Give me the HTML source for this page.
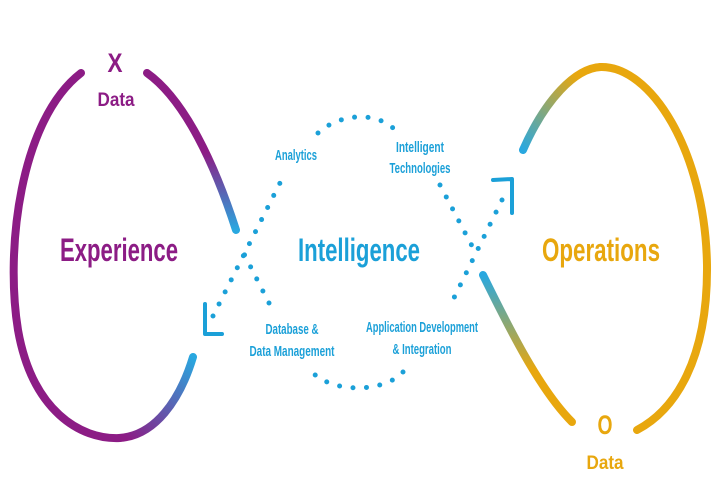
<!DOCTYPE html>
<html><head><meta charset="utf-8"><style>
html,body{margin:0;padding:0;background:#fff;}
svg{display:block;}
text{font-family:"Liberation Sans",sans-serif;font-weight:bold;text-anchor:middle;}
</style></head><body>
<svg width="720" height="495" viewBox="0 0 720 495">
<defs>
<linearGradient id="gl1" gradientUnits="userSpaceOnUse" x1="125" y1="437" x2="193" y2="357">
<stop offset="0" stop-color="#8c1c85"/><stop offset="1" stop-color="#29a8e0"/></linearGradient>
<linearGradient id="gl2" gradientUnits="userSpaceOnUse" x1="0" y1="120" x2="0" y2="230">
<stop offset="0" stop-color="#8c1c85"/><stop offset="0.3" stop-color="#8c1c85"/><stop offset="1" stop-color="#29a8e0"/></linearGradient>
<linearGradient id="gr1" gradientUnits="userSpaceOnUse" x1="523" y1="150" x2="600" y2="67">
<stop offset="0" stop-color="#29a8e0"/><stop offset="0.8" stop-color="#e8a70e"/></linearGradient>
<linearGradient id="gr2" gradientUnits="userSpaceOnUse" x1="0" y1="275" x2="0" y2="370">
<stop offset="0" stop-color="#29a8e0"/><stop offset="1" stop-color="#e8a70e"/></linearGradient>
</defs>
<g fill="none" stroke-width="8" stroke-linecap="round">
<path d="M81,73 C20,120 5,250 18,330 C32,410 80,440 120,438" stroke="#8c1c85"/>
<path d="M119,438 C155,436 180,400 193,357" stroke="url(#gl1)"/>
<path d="M147,73 C185,100 215,165 236,230" stroke="url(#gl2)"/>
<path d="M600,67 C650,65 705,150 707,265 C708,360 675,410 637,430" stroke="#e8a70e"/>
<path d="M523,150 C545,100 575,68 601,67" stroke="url(#gr1)"/>
<path d="M483,275 C510,330 540,390 572,422" stroke="url(#gr2)"/>
</g>
<g fill="none" stroke="#1ba0d8" stroke-width="5" stroke-linecap="round" stroke-dasharray="0 13.5">
<path d="M213,316 L281,181"/>
<path d="M318,133 C340,113 375,112 393,128"/>
<path d="M440,185 L472,246"/>
<path d="M502,200 L449,308"/>
<path d="M403,372 C385,392 335,394 313,373"/>
<path d="M269,303 L240,246"/>
</g>
<g fill="none" stroke="#1ba0d8" stroke-width="4" stroke-linecap="round" stroke-linejoin="round">
<path d="M205,304 L205,334 L222,334"/>
<path d="M493,180 L512,179 L512,213"/>
</g>
<text x="115" y="72" font-size="27" fill="#8c1c85" textLength="15" lengthAdjust="spacingAndGlyphs">X</text>
<text x="116" y="106" font-size="19" fill="#8c1c85" textLength="37" lengthAdjust="spacingAndGlyphs">Data</text>
<text x="119" y="261" font-size="32" fill="#8c1c85" textLength="118" lengthAdjust="spacingAndGlyphs">Experience</text>
<text x="359" y="261" font-size="32" fill="#1ba0d8" textLength="122" lengthAdjust="spacingAndGlyphs">Intelligence</text>
<text x="601" y="261" font-size="32" fill="#e8a70e" textLength="118" lengthAdjust="spacingAndGlyphs">Operations</text>
<text x="605" y="434" font-size="27" fill="#e8a70e" textLength="15" lengthAdjust="spacingAndGlyphs">O</text>
<text x="605" y="469" font-size="19" fill="#e8a70e" textLength="37" lengthAdjust="spacingAndGlyphs">Data</text>
<g font-size="14.5" fill="#1ba0d8">
<text x="296" y="160" textLength="42" lengthAdjust="spacingAndGlyphs">Analytics</text>
<text x="420" y="152" textLength="48" lengthAdjust="spacingAndGlyphs">Intelligent</text>
<text x="420" y="173" textLength="61" lengthAdjust="spacingAndGlyphs">Technologies</text>
<text x="292" y="334" textLength="53" lengthAdjust="spacingAndGlyphs">Database &amp;</text>
<text x="292" y="356" textLength="85" lengthAdjust="spacingAndGlyphs">Data Management</text>
<text x="422" y="332" textLength="112" lengthAdjust="spacingAndGlyphs">Application Development</text>
<text x="422" y="354" textLength="59" lengthAdjust="spacingAndGlyphs">&amp; Integration</text>
</g>
</svg>
</body></html>
